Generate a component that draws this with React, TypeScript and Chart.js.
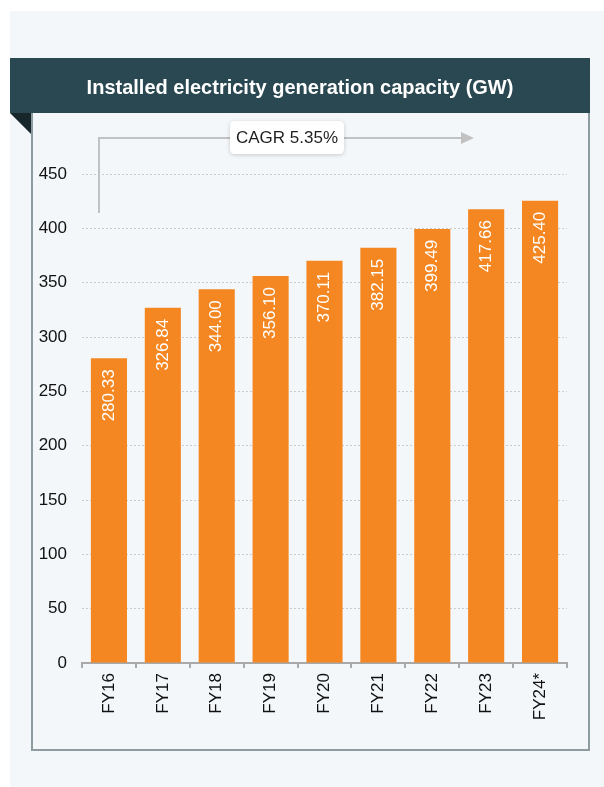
import React, { useEffect, useRef } from "react";
import { Chart, registerables } from "chart.js";

Chart.register(...registerables);

const chartTitle = "Installed electricity generation capacity (GW)";
const cagrLabel = "CAGR 5.35%";
const categories = ["FY16", "FY17", "FY18", "FY19", "FY20", "FY21", "FY22", "FY23", "FY24*"];
const capacityGW = [280.33, 326.84, 344.0, 356.1, 370.11, 382.15, 399.49, 417.66, 425.4];
const yMin = 0;
const yMax = 450;
const yStep = 50;

const W = 604;
const H = 787;
const FONT = "'Liberation Sans', Arial, sans-serif";

const decorPlugin = {
  id: "decor",
  beforeDraw(chart: any) {
    const ctx = chart.ctx;
    ctx.save();
    ctx.fillStyle = "#ffffff";
    ctx.fillRect(0, 0, W, H);
    ctx.fillStyle = "#f4f7f9";
    ctx.fillRect(10, 11, W - 10, H - 11);
    // header bar
    ctx.fillStyle = "#294851";
    ctx.fillRect(10, 58, 580, 55);
    // fold triangle
    ctx.fillStyle = "#16262b";
    ctx.beginPath();
    ctx.moveTo(10, 113);
    ctx.lineTo(32, 113);
    ctx.lineTo(32, 135);
    ctx.closePath();
    ctx.fill();
    // frame
    ctx.strokeStyle = "#8e9ca1";
    ctx.lineWidth = 2;
    ctx.beginPath();
    ctx.moveTo(32, 113);
    ctx.lineTo(32, 750);
    ctx.lineTo(589, 750);
    ctx.lineTo(589, 113);
    ctx.stroke();
    // title
    ctx.fillStyle = "#ffffff";
    ctx.font = "bold 20px " + FONT;
    ctx.textAlign = "center";
    ctx.textBaseline = "middle";
    ctx.fillText(chartTitle, 300, 88);
    ctx.restore();
  },
  afterDraw(chart: any) {
    const ctx = chart.ctx;
    ctx.save();
    // CAGR arrow
    ctx.strokeStyle = "#c2c2c2";
    ctx.lineWidth = 2;
    ctx.beginPath();
    ctx.moveTo(99, 213);
    ctx.lineTo(99, 138);
    ctx.lineTo(463, 138);
    ctx.stroke();
    ctx.fillStyle = "#c2c2c2";
    ctx.beginPath();
    ctx.moveTo(461, 132);
    ctx.lineTo(474, 138);
    ctx.lineTo(461, 144);
    ctx.closePath();
    ctx.fill();
    // label box
    ctx.shadowColor = "rgba(0,0,0,0.18)";
    ctx.shadowBlur = 4;
    ctx.shadowOffsetY = 1;
    ctx.fillStyle = "#ffffff";
    const bx = 230, by = 121, bw = 114, bh = 33, r = 5;
    ctx.beginPath();
    ctx.moveTo(bx + r, by);
    ctx.lineTo(bx + bw - r, by);
    ctx.quadraticCurveTo(bx + bw, by, bx + bw, by + r);
    ctx.lineTo(bx + bw, by + bh - r);
    ctx.quadraticCurveTo(bx + bw, by + bh, bx + bw - r, by + bh);
    ctx.lineTo(bx + r, by + bh);
    ctx.quadraticCurveTo(bx, by + bh, bx, by + bh - r);
    ctx.lineTo(bx, by + r);
    ctx.quadraticCurveTo(bx, by, bx + r, by);
    ctx.closePath();
    ctx.fill();
    ctx.shadowColor = "transparent";
    ctx.fillStyle = "#1e1e1e";
    ctx.font = "17px " + FONT;
    ctx.textAlign = "center";
    ctx.textBaseline = "middle";
    ctx.fillText(cagrLabel, bx + bw / 2, by + bh / 2 + 1);
    ctx.restore();
  },
  afterDatasetsDraw(chart: any) {
    const ctx = chart.ctx;
    const meta = chart.getDatasetMeta(0);
    ctx.save();
    ctx.fillStyle = "#ffffff";
    ctx.font = "17px " + FONT;
    ctx.textAlign = "right";
    ctx.textBaseline = "middle";
    meta.data.forEach((bar: any, i: number) => {
      ctx.save();
      ctx.translate(bar.x, bar.y + 11);
      ctx.rotate(-Math.PI / 2);
      ctx.fillText(capacityGW[i].toFixed(2), 0, 0);
      ctx.restore();
    });
    ctx.restore();
  },
};

export default function App() {
  const ref = useRef<HTMLCanvasElement | null>(null);
  useEffect(() => {
    if (!ref.current) return;
    const chart = new Chart(ref.current, {
      type: "bar",
      data: {
        labels: categories,
        datasets: [
          {
            data: capacityGW,
            backgroundColor: "#f48721",
            borderWidth: 0,
            barPercentage: 0.67,
            categoryPercentage: 1,
          },
        ],
      },
      options: {
        animation: false,
        responsive: false,
        devicePixelRatio: 1,
        layout: { padding: { left: 32, right: 37, top: 174, bottom: 0 } },
        plugins: { legend: { display: false }, tooltip: { enabled: false }, title: { display: false } },
        scales: {
          x: {
            offset: true,
            grid: {
              display: true,
              drawOnChartArea: false,
              drawTicks: true,
              tickLength: 5,
              color: "#a9a9a9",
              lineWidth: 2,
              offset: true,
            },
            border: { display: true, color: "#a9a9a9", width: 2 },
            ticks: {
              color: "#111111",
              font: { family: FONT, size: 17 },
              minRotation: 90,
              maxRotation: 90,
              padding: 5,
              autoSkip: false,
            },
            afterFit(scale: any) {
              scale.height = H - 663;
            },
          },
          y: {
            min: yMin,
            max: yMax,
            ticks: {
              stepSize: yStep,
              color: "#111111",
              font: { family: FONT, size: 17 },
              padding: 15,
            },
            grid: {
              drawTicks: false,
              color: (c: any) => (c.tick && c.tick.value === 0 ? "rgba(0,0,0,0)" : "#cccccc"),
              lineWidth: 1,
            },
            border: { display: false, dash: [2, 2] },
            afterFit(scale: any) {
              scale.width = 50;
            },
          },
        },
      },
      plugins: [decorPlugin],
    } as any);
    return () => chart.destroy();
  }, []);
  return (
    <div style={{ position: "absolute", left: 0, top: 0, width: W, height: H }}>
      <canvas ref={ref} width={W} height={H} style={{ display: "block", width: W, height: H }} />
    </div>
  );
}
